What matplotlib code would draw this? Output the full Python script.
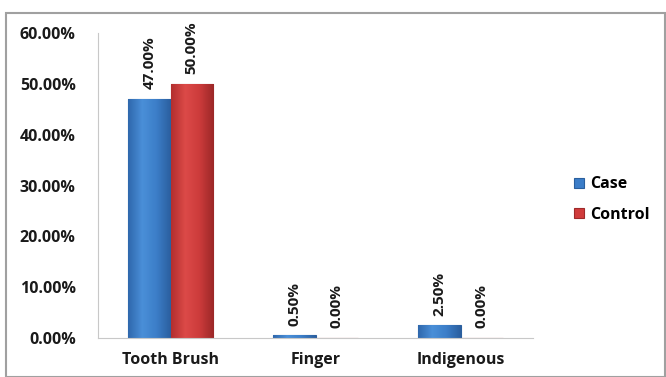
import numpy as np
import matplotlib.pyplot as plt
from matplotlib.colors import LinearSegmentedColormap
from matplotlib.patches import Rectangle

categories = ["Tooth Brush", "Finger", "Indigenous"]
case_pct = [47.0, 0.5, 2.5]
control_pct = [50.0, 0.0, 0.0]
y_ticks = [0, 10, 20, 30, 40, 50, 60]

plt.rcParams['font.family'] = ['Open Sans', 'DejaVu Sans']

fig = plt.figure(figsize=(6.66, 3.77), dpi=100)
ax = fig.add_axes([98 / 666, 1 - 338 / 377, 435 / 666, 305 / 377])

# outer chart frame
fig.patches.append(Rectangle((6 / 666, 0), 659 / 666, 1 - 13 / 377,
                             transform=fig.transFigure, fill=False,
                             edgecolor="#a0a0a0", linewidth=1.5))

x = np.arange(len(categories))
w = 0.29
b1 = ax.bar(x - w / 2, case_pct, w, color="#3b7dc8", edgecolor="#2a5f9e",
            linewidth=0.8, label="Case")
b2 = ax.bar(x + w / 2, control_pct, w, color="#d03b3b", edgecolor="#9e2a2a",
            linewidth=0.8, label="Control")

# shaded fill across each bar, clipped to the bar shape
shades = {
    "case": LinearSegmentedColormap.from_list(
        "case", ["#2f68ad", "#4a8fd8", "#3c7ec8", "#2b5f9f"]),
    "control": LinearSegmentedColormap.from_list(
        "control", ["#b32f2f", "#dc4a48", "#cc3b3b", "#9c2828"]),
}
grad = np.linspace(0, 1, 64).reshape(1, -1)
for bars, key in ((b1, "case"), (b2, "control")):
    for bar in bars:
        if bar.get_height() <= 0:
            continue
        x0, h, bw = bar.get_x(), bar.get_height(), bar.get_width()
        im = ax.imshow(grad, cmap=shades[key], aspect="auto",
                       extent=[x0, x0 + bw, 0, h], zorder=bar.get_zorder() + 0.1)
        im.set_clip_path(bar)

for bars, vals in ((b1, case_pct), (b2, control_pct)):
    for bar, v in zip(bars, vals):
        ax.annotate(f"{v:.2f}%", (bar.get_x() + bar.get_width() / 2, v),
                    xytext=(0, 7), textcoords="offset points",
                    rotation=90, ha="center", va="bottom",
                    fontsize=11, fontweight="bold", color="#1a1a1a",
                    annotation_clip=False)

ax.set_xlim(-0.5, 2.5)
ax.set_ylim(0, 60)
ax.set_yticks(y_ticks)
ax.set_yticklabels([f"{t:.2f}%" for t in y_ticks])
ax.set_xticks(x)
ax.set_xticklabels(categories)
ax.tick_params(axis="y", length=0, labelsize=11.5, colors="#1a1a1a", pad=16)
ax.tick_params(axis="x", length=0, labelsize=11.5, colors="#1a1a1a", pad=10)
for lbl in ax.get_xticklabels() + ax.get_yticklabels():
    lbl.set_fontweight("bold")

for side in ("top", "right"):
    ax.spines[side].set_visible(False)
for side in ("left", "bottom"):
    ax.spines[side].set_color("#c8c8c8")

fig.legend(handles=[b1, b2], loc="upper left",
           bbox_to_anchor=(560 / 666, 1 - 162 / 377), frameon=False,
           prop={"weight": "bold", "size": 11.5}, handlelength=0.6,
           handleheight=0.6, labelspacing=0.9, handletextpad=0.4)

fig.savefig("out.png", dpi=100)
